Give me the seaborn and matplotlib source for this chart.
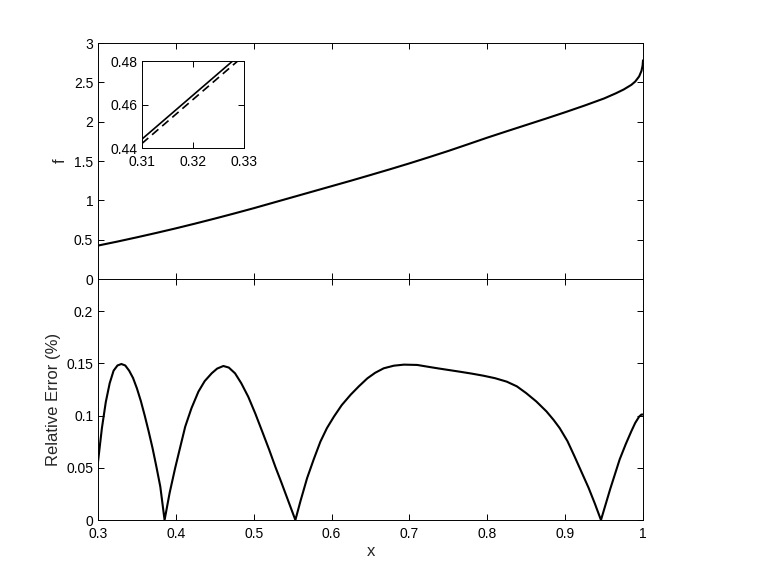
"""
Function f(x) with inset zoom, and relative error of the approximation
"""

import numpy as np
import matplotlib
matplotlib.use('Agg')
import matplotlib.pyplot as plt
import matplotlib.ticker as mticker
import seaborn as sns

# exact function
x_f = [0.300, 0.325, 0.350, 0.375, 0.400, 0.425, 0.450, 0.475, 0.500, 0.525,
       0.550, 0.575, 0.600, 0.625, 0.650, 0.675, 0.700, 0.725, 0.750, 0.775,
       0.800, 0.825, 0.850, 0.875, 0.900, 0.925, 0.950, 0.965, 0.975, 0.985,
       0.990, 0.995, 0.998, 0.9995, 1.000]
f_vals = [0.425, 0.476, 0.530, 0.586, 0.644, 0.705, 0.768, 0.833, 0.900, 0.970,
          1.040, 1.110, 1.180, 1.250, 1.322, 1.395, 1.470, 1.548, 1.628, 1.712,
          1.797, 1.878, 1.958, 2.038, 2.120, 2.205, 2.295, 2.360, 2.408, 2.468,
          2.510, 2.575, 2.645, 2.715, 2.780]

# inset: exact (solid) vs approximation (dashed)
inset_x = [0.31, 0.33]
inset_exact = [0.4441, 0.4845]
inset_approx = [0.4421, 0.4825]

# relative error (%), lower panel
x_err = [0.300, 0.305, 0.310, 0.315, 0.320, 0.325, 0.330, 0.335, 0.340, 0.345,
         0.350, 0.355, 0.360, 0.365, 0.370, 0.375, 0.380, 0.3855,
         0.392, 0.399, 0.405, 0.412, 0.420, 0.429, 0.437, 0.446, 0.453, 0.461,
         0.468, 0.476, 0.484, 0.493, 0.502, 0.511, 0.520, 0.528, 0.535, 0.541,
         0.547, 0.5535,
         0.560, 0.5685, 0.577, 0.5856, 0.594, 0.603, 0.613, 0.6245, 0.635, 0.646,
         0.656, 0.667, 0.680, 0.693, 0.710, 0.722, 0.736, 0.750, 0.765, 0.780,
         0.795, 0.810, 0.825, 0.838, 0.850, 0.863, 0.876, 0.885, 0.893, 0.903,
         0.912, 0.921, 0.930, 0.938, 0.946,
         0.958, 0.970, 0.978, 0.985, 0.990, 0.995, 0.998, 1.000]
err_vals = [0.0558, 0.088, 0.113, 0.131, 0.143, 0.148, 0.1494, 0.148, 0.143, 0.136,
            0.126, 0.114, 0.100, 0.085, 0.069, 0.051, 0.032, 0.0,
            0.026, 0.0495, 0.068, 0.0894, 0.107, 0.123, 0.133, 0.1405, 0.145, 0.1475,
            0.146, 0.1405, 0.131, 0.118, 0.102, 0.0846, 0.067, 0.0505, 0.037, 0.025,
            0.013, 0.0,
            0.018, 0.040, 0.058, 0.075, 0.088, 0.099, 0.110, 0.120, 0.128, 0.1357,
            0.141, 0.1453, 0.1478, 0.1488, 0.1485, 0.147, 0.1453, 0.1437, 0.142, 0.1402,
            0.1382, 0.1358, 0.1325, 0.1280, 0.1215, 0.1135, 0.104, 0.096, 0.088, 0.0755,
            0.061, 0.046, 0.031, 0.016, 0.0,
            0.030, 0.058, 0.073, 0.085, 0.093, 0.099, 0.101, 0.101]

x_ticks = [0.3, 0.4, 0.5, 0.6, 0.7, 0.8, 0.9, 1.0]
f_ticks = [0, 0.5, 1, 1.5, 2, 2.5, 3]
err_ticks = [0, 0.05, 0.1, 0.15, 0.2]

sns.set_style("ticks")
plt.rcParams['font.family'] = ['Liberation Sans', 'DejaVu Sans']
plt.rcParams['font.size'] = 10
plt.rcParams['axes.linewidth'] = 0.7

fmt = mticker.FormatStrFormatter('%g')


def matlab_box(ax):
    ax.tick_params(direction='in', top=True, right=True, length=4, width=0.7,
                   labelsize=10, colors='k')
    ax.tick_params(axis='x', pad=5)
    for sp in ax.spines.values():
        sp.set_visible(True)
        sp.set_color('k')
    ax.xaxis.set_major_formatter(fmt)
    ax.yaxis.set_major_formatter(fmt)


fig = plt.figure(figsize=(7.58, 5.78), dpi=100)
ax_top = fig.add_axes([0.1293, 0.5173, 0.719, 0.4083])
ax_bot = fig.add_axes([0.1293, 0.1003, 0.719, 0.4170])

# upper panel
sns.lineplot(x=x_f, y=f_vals, ax=ax_top, color='k', lw=1.5)
ax_top.set_xlim(0.3, 1)
ax_top.set_ylim(0, 3)
ax_top.set_xticks(x_ticks)
ax_top.set_yticks(f_ticks)
matlab_box(ax_top)
ax_top.tick_params(labelbottom=False)
ax_top.set_xlabel('')
ax_top.set_ylabel('f', fontsize=12)

# lower panel
sns.lineplot(x=x_err, y=err_vals, ax=ax_bot, color='k', lw=1.5)
ax_bot.set_xlim(0.3, 1)
ax_bot.set_ylim(0, 0.2308)
ax_bot.set_xticks(x_ticks)
ax_bot.set_yticks(err_ticks)
matlab_box(ax_bot)
ax_bot.set_xlabel('x', fontsize=12, labelpad=2)
ax_bot.set_ylabel('Relative Error (%)', fontsize=12)

# inset
ax_in = fig.add_axes([0.1873, 0.7439, 0.1346, 0.1505])
sns.lineplot(x=inset_x, y=inset_exact, ax=ax_in, color='k', lw=1.2)
sns.lineplot(x=inset_x, y=inset_approx, ax=ax_in, color='k', lw=1.2,
             linestyle=(0, (5, 3)))
ax_in.set_xlim(0.31, 0.33)
ax_in.set_ylim(0.44, 0.48)
ax_in.set_xticks([0.31, 0.32, 0.33])
ax_in.set_yticks([0.44, 0.46, 0.48])
matlab_box(ax_in)
ax_in.set_xlabel('')
ax_in.set_ylabel('')

plt.savefig('out.png', dpi=100)
